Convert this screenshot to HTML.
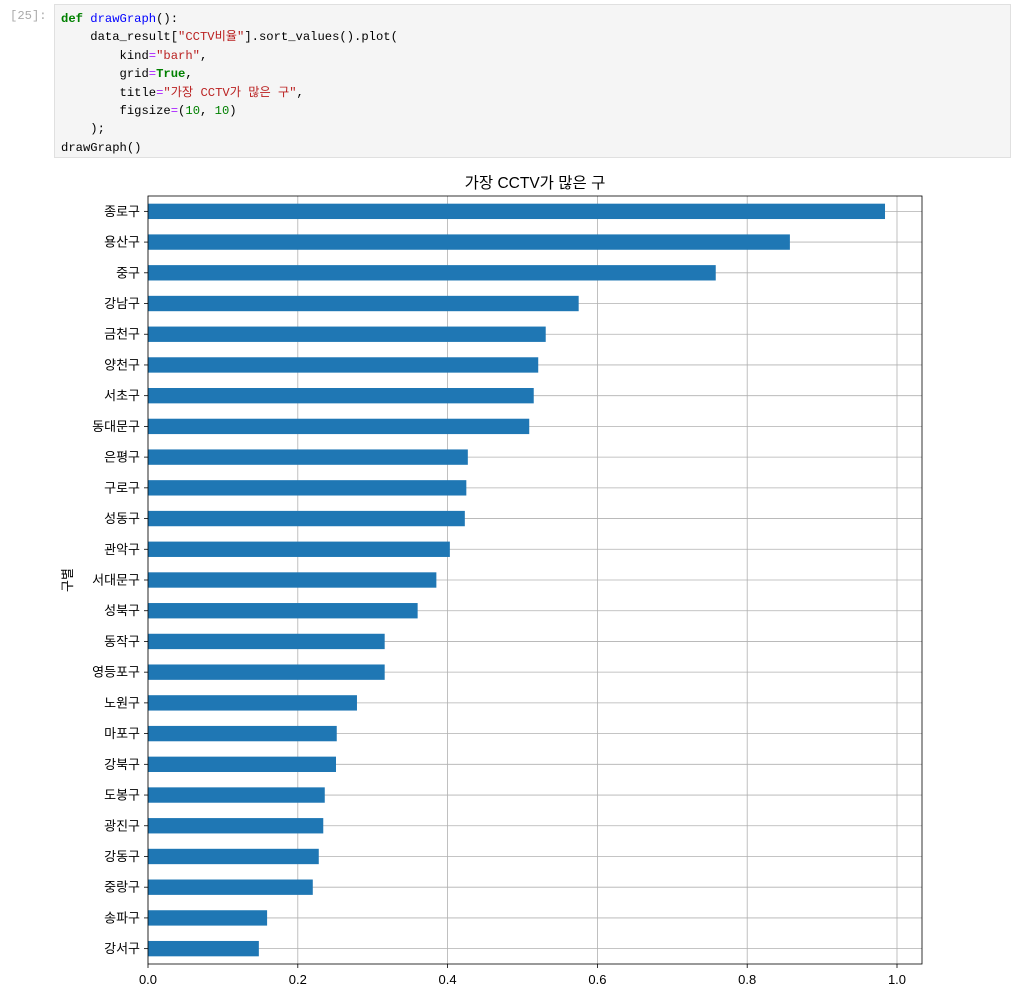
<!DOCTYPE html>
<html><head><meta charset="utf-8">
<style>
body{margin:0;background:#fff;width:1019px;height:990px;overflow:hidden;position:relative;font-family:"Liberation Sans","Noto Sans CJK KR",sans-serif;}
.prompt{position:absolute;left:10px;top:9px;font:12.2px "Liberation Mono","Noto Sans CJK KR",monospace;color:#aaa;}
.cell{position:absolute;left:54px;top:4px;width:957px;height:154px;background:#f5f5f5;border:1px solid #e0e0e0;box-sizing:border-box;}
pre{margin:0;position:absolute;left:6px;top:5px;font:12.2px/18.4px "Liberation Mono","Noto Sans CJK KR",monospace;color:#000;}
.k{color:#008000;font-weight:bold}.f{color:#0000ff}.s{color:#ba2121}.o{color:#aa22ff}.n{color:#008000}.p{color:#0055aa}
svg{position:absolute;left:0;top:0}
</style></head><body>
<div class="prompt">[25]:</div>
<div class="cell"><pre><span class="k">def</span> <span class="f">drawGraph</span>():
    data_result[<span class="s">"CCTV비율"</span>].sort_values().plot(
        kind<span class="o">=</span><span class="s">"barh"</span>,
        grid<span class="o">=</span><span class="k">True</span>,
        title<span class="o">=</span><span class="s">"가장 CCTV가 많은 구"</span>,
        figsize<span class="o">=</span>(<span class="n">10</span>, <span class="n">10</span>)
    );
drawGraph()</pre></div>
<svg id="chart" width="1019" height="990"></svg>
<script>
const categories=["종로구","용산구","중구","강남구","금천구","양천구","서초구","동대문구","은평구","구로구","성동구","관악구","서대문구","성북구","동작구","영등포구","노원구","마포구","강북구","도봉구","광진구","강동구","중랑구","송파구","강서구"];
const values=[0.984,0.857,0.758,0.575,0.531,0.521,0.515,0.509,0.427,0.425,0.423,0.403,0.385,0.360,0.316,0.316,0.279,0.252,0.251,0.236,0.234,0.228,0.220,0.159,0.148];
const xTicks=[0,0.2,0.4,0.6,0.8,1.0];
const xTickLabels=["0.0","0.2","0.4","0.6","0.8","1.0"];
const NS="http://www.w3.org/2000/svg";
const svg=document.getElementById('chart');
const L=148,R=922,T=196,B=964;
const xMin=0,xMax=(R-L)/749;
const X=v=>L+(v-xMin)/(xMax-xMin)*(R-L);
const step=(B-T)/categories.length;
const Y=i=>T+step*(i+0.5);
function mk(t,a){const e=document.createElementNS(NS,t);for(const k in a)e.setAttribute(k,a[k]);svg.appendChild(e);return e;}
// grid
xTicks.forEach((t,i)=>{
  const g=mk('line',{x1:X(t),x2:X(t),y1:T,y2:B,stroke:'#b0b0b0','stroke-width':0.8});
  
  
});
categories.forEach((c,i)=>{
  const g=mk('line',{x1:L,x2:R,y1:Y(i),y2:Y(i),stroke:'#b0b0b0','stroke-width':0.8});
  
  
});
// bars
categories.forEach((c,i)=>{
  const b=mk('rect',{x:X(0),y:Y(i)-step/4,width:X(values[i])-X(0),height:step/2,fill:'#1f77b4'});
  
  
  const tk=mk('line',{x1:L-4,x2:L,y1:Y(i),y2:Y(i),stroke:'#000','stroke-width':0.8});
  
  
  const t=mk('text',{x:L-8,y:Y(i)+4.5,'text-anchor':'end','font-size':13,fill:'#000'});
  t.textContent=c;
  
  
});
xTicks.forEach((v,i)=>{
  const tk=mk('line',{x1:X(v),x2:X(v),y1:B,y2:B+4,stroke:'#000','stroke-width':0.8});
  
  
  const t=mk('text',{x:X(v),y:B+20,'text-anchor':'middle','font-size':13,fill:'#000'});
  t.textContent=xTickLabels[i];
  
  
});
const fr=mk('rect',{x:L,y:T,width:R-L,height:B-T,fill:'none',stroke:'#000','stroke-width':0.8});


const title=mk('text',{x:(L+R)/2,y:T-8,'text-anchor':'middle','font-size':15.5,fill:'#000'});
title.textContent='가장 CCTV가 많은 구';


const yl=mk('text',{x:0,y:0,'text-anchor':'middle','font-size':13,fill:'#000',transform:`translate(72,${(T+B)/2}) rotate(-90)`});
yl.textContent='구별';


</script>
</body></html>
